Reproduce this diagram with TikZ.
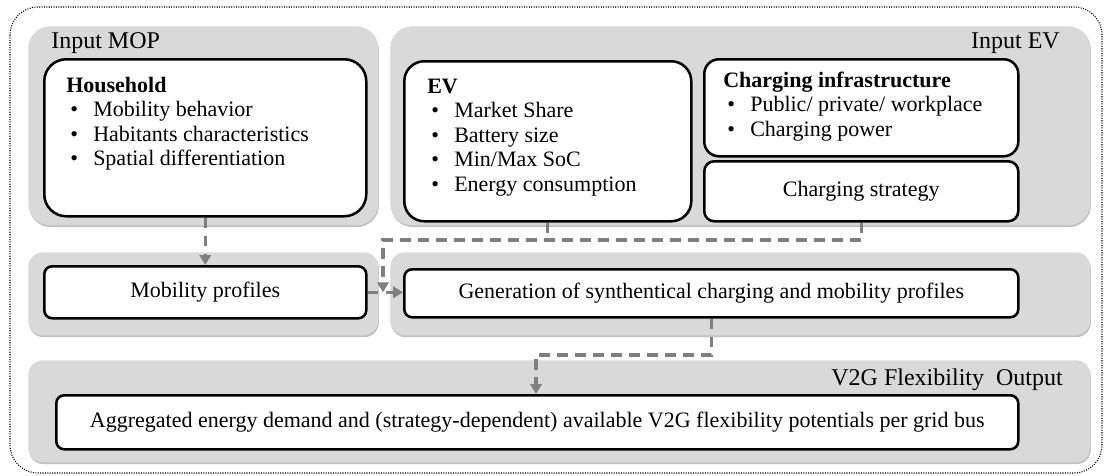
\documentclass[tikz,border=0pt]{standalone}
\usepackage{fontspec}
\setmainfont{Liberation Serif}
\usetikzlibrary{arrows.meta,shadows,calc}
\definecolor{panelgray}{HTML}{D9D9D9}
\definecolor{linkgray}{HTML}{7F7F7F}
\newdimen\pu \pu=0.75pt
\newcommand{\bodyfont}{\fontsize{16.5}{18.4}\selectfont}
\newcommand{\titlefont}{\fontsize{18}{20}\selectfont}
\newcommand{\itm}[1]{\hspace*{4\pu}\makebox[23\pu][l]{\textbullet}#1}
\tikzset{
  panel/.style={fill=panelgray, draw=none, rounded corners=#1, inner sep=0pt, anchor=north west,
    drop shadow={shadow xshift=0.5pt, shadow yshift=-1.4pt, opacity=0.35, fill=black!70}},
  card/.style={fill=white, draw=black, line width=1.9pt, rounded corners=#1, inner sep=0pt, anchor=north west},
  link/.style={draw=linkgray, line width=2.3pt, dash pattern=on 8pt off 5.5pt},
  arr/.style={-{Triangle[width=8.5pt,length=7.5pt]}},
  lbl/.style={inner sep=0pt}
}
\begin{document}
\begin{tikzpicture}[x=0.75pt,y=-0.75pt]
\useasboundingbox (0,0) rectangle (1105,475);
\draw[densely dotted, line width=0.8pt, rounded corners=21pt] (10,7) rectangle (1102,473);

% top row
\node[panel=16.5pt, minimum width=350*\pu, minimum height=199*\pu] (mopP) at (28,26) {};
\node[panel=16.5pt, minimum width=700*\pu, minimum height=199*\pu] (evP) at (390,26) {};
\node[lbl, anchor=base west] (mopT) at (51,48) {\titlefont Input MOP};
\node[lbl, anchor=base east] (evT) at (1060,48) {\titlefont Input EV};

\node[card=16.5pt, minimum width=322*\pu, minimum height=157*\pu] (hh) at (43,58) {};
\node[lbl, anchor=base west] (hhT) at (66,92) {\bodyfont\begin{tabular}[t]{@{}l@{}}
\textbf{Household}\\
\itm{Mobility behavior}\\
\itm{Habitants characteristics}\\
\itm{Spatial differentiation}
\end{tabular}};

\node[card=15pt, minimum width=287*\pu, minimum height=160*\pu] (ev) at (403,60) {};
\node[lbl, anchor=base west] (evL) at (427,93) {\bodyfont\begin{tabular}[t]{@{}l@{}}
\textbf{EV}\\
\itm{Market Share}\\
\itm{Battery size}\\
\itm{Min/Max SoC}\\
\itm{Energy consumption}
\end{tabular}};

\node[card=11pt, minimum width=314*\pu, minimum height=97*\pu] (ci) at (703,58) {};
\node[lbl, anchor=base west] (ciT) at (723,87) {\bodyfont\begin{tabular}[t]{@{}l@{}}
\textbf{Charging infrastructure}\\
\itm{Public/ private/ workplace}\\
\itm{Charging power}
\end{tabular}};

\node[card=7.5pt, minimum width=314*\pu, minimum height=60*\pu] (cs) at (703,160) {\bodyfont Charging strategy};

% middle row
\node[panel=11pt, minimum width=350*\pu, minimum height=83*\pu] (mobP) at (28,252) {};
\node[panel=11pt, minimum width=700*\pu, minimum height=83*\pu] (genP) at (390,252) {};
\node[card=6pt, minimum width=322*\pu, minimum height=52*\pu] (mob) at (43,265) {\bodyfont Mobility profiles};
\node[card=6pt, minimum width=614*\pu, minimum height=48*\pu] (gen) at (403,268) {\bodyfont Generation of synthentical charging and mobility profiles};

% bottom row
\node[panel=11pt, minimum width=1062*\pu, minimum height=102*\pu] (outP) at (28,360) {};
\node[lbl, anchor=base east] (outT) at (1063,385) {\titlefont V2G Flexibility\ \ Output};
\node[card=6pt, minimum width=962*\pu, minimum height=54*\pu] (agg) at (55,394) {\bodyfont Aggregated energy demand and (strategy-dependent) available V2G flexibility potentials per grid bus};

% connectors
\coordinate (turn) at (383,240);
\coordinate (down) at (536,355);
\draw[link,arr] (hh.south) -- (mob.north);
\draw[link] (ev.south) -- (ev.south |- turn);
\draw[link,arr] (cs.south) |- (turn) -- (turn |- mob.east);
\draw[link,arr] (mob.east) -- (mob.east -| gen.west);
\draw[link,arr] (gen.south) |- (down) -- (down |- agg.north);
\end{tikzpicture}
\end{document}
